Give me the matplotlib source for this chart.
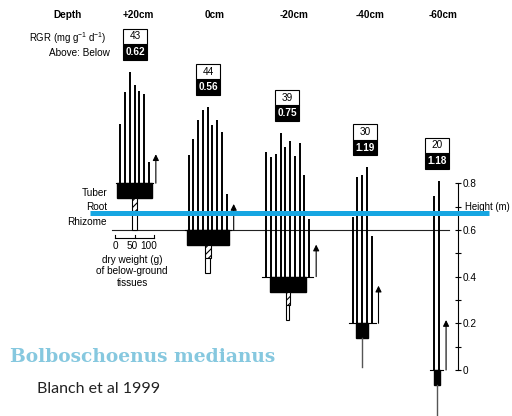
import matplotlib
matplotlib.use('Agg')
import matplotlib.pyplot as plt
from matplotlib.patches import Rectangle

# values (Blanch et al 1999)
depths = ['+20cm', '0cm', '-20cm', '-40cm', '-60cm']
rgr = [43, 44, 39, 30, 20]
above_below = [0.62, 0.56, 0.75, 1.19, 1.18]
tuber_level = [0.8, 0.6, 0.4, 0.2, 0.0]          # m on the height axis
stems_p20 = [0.253, 0.391, 0.478, 0.420, 0.394, 0.380, 0.091]
stems_0 = [0.322, 0.390, 0.471, 0.515, 0.527, 0.448, 0.471, 0.420, 0.154]
stems_m20 = [0.532, 0.513, 0.524, 0.615, 0.557, 0.582, 0.518, 0.574, 0.434, 0.247]
stems_m40 = [0.454, 0.625, 0.633, 0.668, 0.373]
stems_m60 = [0.744, 0.811]
stems = [stems_p20, stems_0, stems_m20, stems_m40, stems_m60]
tuber_dw = [91, 108, 92, 33, 16]     # g
root_dw = [11, 16, 10, 0, 0]
rhizome_dw = [11, 12, 7, 0, 0]
arrow_len = [0.124, 0.111, 0.137, 0.161, 0.214]
height_ticks = [0, 0.2, 0.4, 0.6, 0.8]
height_labels = ['0', '0.2', '0.4', '0.6', '0.8']
weight_ticks = [0, 50, 100]

# layout (figure pixels)
PX = 233.5            # pixels per metre
GX = 0.39             # pixels per gram
centers = [134.6, 207.7, 287.8, 362.0, 436.7]
head_x = [138, 215, 294, 370, 443]
box_x = [135, 208, 287.3, 365, 437]
step = 4.75


def Y(p):
    return (370 - p) / PX


plt.rcParams['hatch.linewidth'] = 0.8
plt.rcParams['mathtext.fontset'] = 'custom'
plt.rcParams['mathtext.rm'] = 'Liberation Sans'
plt.rcParams['mathtext.it'] = 'Liberation Sans'
font = 'Liberation Sans'

fig = plt.figure(figsize=(5.12, 4.16), dpi=100)
ax = fig.add_axes([0, 0, 1, 1])
ax.set_xlim(0, 512)
ax.set_ylim(Y(416), Y(0))

# soil line and height axis
ax.plot([112, 449], [0.6, 0.6], color='#222222', lw=0.8, zorder=1)
for s in ['top', 'bottom', 'left']:
    ax.spines[s].set_visible(False)
ax.spines['right'].set_position(('data', 458))
ax.spines['right'].set_bounds(0, 0.8)
ax.spines['right'].set_linewidth(0.8)
ax.set_xticks([])
ax.yaxis.set_ticks_position('right')
ax.set_yticks(height_ticks)
ax.set_yticklabels(height_labels, fontsize=7.2, family=font)
ax.set_yticks([0.1, 0.3, 0.5, 0.7], minor=True)
ax.tick_params(axis='y', which='both', direction='inout', length=4, width=0.8, pad=1)
ax.text(465, Y(207), 'Height (m)', fontsize=6.9, family=font, va='center')

for i, c in enumerate(centers):
    base = tuber_level[i]
    n = len(stems[i])
    xs = [c + (k - (n - 1) / 2) * step for k in range(n)]
    for x, h in zip(xs, stems[i]):
        ax.plot([x, x], [base, base + h], color='k', lw=1.4, solid_capstyle='butt', zorder=3)
    ax.plot([xs[0] - 4, xs[-1] + 4], [base, base], color='k', lw=0.8, zorder=3)

    # tuber, root, rhizome
    tw = tuber_dw[i] * GX
    th = 15 / PX
    ax.add_patch(Rectangle((c - tw / 2, base - th), tw, th, color='k', zorder=3))
    y0 = base - th
    if root_dw[i] > 0:
        rw = root_dw[i] * GX
        rl = 13 / PX
        ax.add_patch(Rectangle((c - rw / 2, y0 - rl), rw, rl, facecolor='white',
                               edgecolor='k', hatch='/////', lw=0.8, zorder=3))
        zw = rhizome_dw[i] * GX
        zl = (19 if i == 0 else 15) / PX
        ax.add_patch(Rectangle((c - zw / 2, y0 - rl - zl), zw, zl, facecolor='white',
                               edgecolor='k', lw=0.8, zorder=3))
    else:
        ax.plot([c, c], [y0, y0 - (0.125 if i == 3 else 0.3)], color='#555555', lw=1.0, zorder=3)

    # growth arrow
    ax.annotate('', xy=(xs[-1] + 7, base + arrow_len[i]), xytext=(xs[-1] + 7, base),
                arrowprops=dict(arrowstyle='-|>', lw=0.8, color='k', mutation_scale=9,
                                shrinkA=0, shrinkB=0), zorder=4)

    # RGR and above:below boxes
    bb = base + max(stems[i]) + 12 / PX
    bh = 15.5 / PX
    ax.add_patch(Rectangle((box_x[i] - 12, bb), 24, bh, facecolor='black', edgecolor='k', lw=0.8))
    ax.add_patch(Rectangle((box_x[i] - 12, bb + bh), 24, bh, facecolor='white', edgecolor='k', lw=0.8))
    ax.text(box_x[i], bb + bh / 2, f'{above_below[i]:.2f}', color='white', fontsize=7.2,
            fontweight='bold', family=font, ha='center', va='center')
    ax.text(box_x[i], bb + 1.5 * bh, str(rgr[i]), color='black', fontsize=7.2,
            family=font, ha='center', va='center')

    ax.text(head_x[i], Y(15), depths[i], fontsize=7.2, fontweight='bold', family=font,
            ha='center', va='center')

ax.text(68, Y(15), 'Depth', fontsize=7.2, fontweight='bold', family=font, ha='center', va='center')
ax.text(107, Y(37.7), 'RGR (mg g$^{-1}$ d$^{-1}$)', fontsize=6.9, family=font, ha='right', va='center')
ax.text(110, Y(53.3), 'Above: Below', fontsize=7.2, family=font, ha='right', va='center')
for lab, yy in zip(['Tuber', 'Root', 'Rhizome'], [193.3, 206.7, 222.3]):
    ax.text(107, Y(yy), lab, fontsize=7.2, family=font, ha='right', va='center')

# dry weight scale bar
sx = [115 + w * GX for w in weight_ticks]
ax.plot([sx[0], sx[-1]], [Y(237.7)] * 2, color='k', lw=0.8)
for x in sx:
    ax.plot([x, x], [Y(237.7), Y(235.5)], color='k', lw=0.8)
for x, w in zip(sx, weight_ticks):
    ax.text(x + (0 if w == 0 else -2 if w == 50 else -5), Y(246), str(w), fontsize=7.2,
            family=font, ha='center', va='center')
ax.text(132, Y(260), 'dry weight (g)', fontsize=7.2, family=font, ha='center', va='center')
ax.text(132, Y(271.5), 'of below-ground', fontsize=7.2, family=font, ha='center', va='center')
ax.text(132, Y(283), 'tissues', fontsize=7.2, family=font, ha='center', va='center')

# blue reference line
ax.plot([90, 489], [Y(213), Y(213)], color='#16a6e2', lw=3.6, solid_capstyle='butt', zorder=10)

ax.text(10, Y(357), 'Bolboschoenus medianus', fontsize=13.4, fontweight='bold',
        family='DejaVu Serif', color='#86c8df', va='center')
ax.text(37, Y(389), 'Blanch et al 1999', fontsize=11.5, family='Lato', color='#222222', va='center')

fig.savefig('out.png', dpi=100)
